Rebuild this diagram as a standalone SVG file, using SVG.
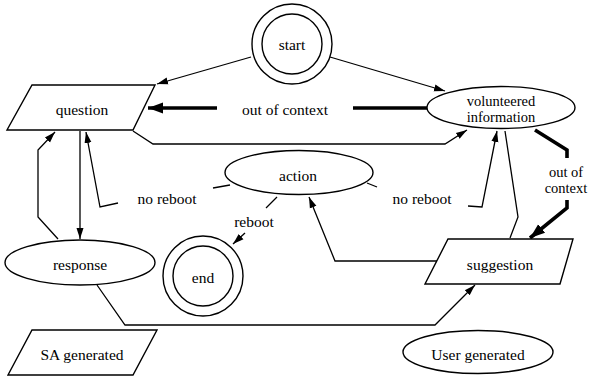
<svg xmlns="http://www.w3.org/2000/svg" width="591" height="377" viewBox="0 0 591 377">
<defs>
<style>
.n{fill:#fff;stroke:#000;stroke-width:1.4}
.t{font-family:'Liberation Serif','DejaVu Serif',serif;font-size:15.5px;fill:#000;text-anchor:middle}
.s{font-size:14.5px}
.c{fill:none;stroke:#000;stroke-width:1.3;stroke-linejoin:miter}
.k{fill:none;stroke:#000;stroke-width:3.6;stroke-linejoin:miter}
</style>
<marker id="a" markerUnits="userSpaceOnUse" markerWidth="12" markerHeight="10" viewBox="0 0 12 10" refX="11" refY="5" orient="auto"><path d="M0,1.5 L11,5 L0,8.5 Z" fill="#000"/></marker>
<marker id="b" markerUnits="userSpaceOnUse" markerWidth="16" markerHeight="14" viewBox="0 0 16 14" refX="15" refY="7" orient="auto"><path d="M0,1.5 L15,7 L0,12.5 Z" fill="#000"/></marker>
</defs>
<rect width="591" height="377" fill="#fff"/>
<g id="connectors">
<line class="c" x1="251" y1="57" x2="157" y2="84" marker-end="url(#a)"/>
<line class="c" x1="330" y1="57" x2="445" y2="91" marker-end="url(#a)"/>
<line class="k" x1="427" y1="108" x2="353" y2="108"/>
<line class="k" x1="217" y1="108" x2="148" y2="108" marker-end="url(#b)"/>
<polyline class="c" points="133,131 153,144 445,144 467,130" marker-end="url(#a)"/>
<polyline class="k" points="535,130 567,150 567,158"/>
<polyline class="k" points="567,200 567,208 530,238" marker-end="url(#b)"/>
<polyline class="c" points="230,185 213,188"/>
<polyline class="c" points="118,203 100,207 86,132" marker-end="url(#a)"/>
<polyline class="c" points="367,183 377,187"/>
<polyline class="c" points="468,206 482,207 497,131" marker-end="url(#a)"/>
<polyline class="c" points="510,238 518,217 505,131"/>
<line class="c" x1="80" y1="131" x2="80" y2="239" marker-end="url(#a)"/>
<polyline class="c" points="58,239 38,217 38,150 55,132" marker-end="url(#a)"/>
<polyline class="c" points="97,285 125,325 435,325 475,285" marker-end="url(#a)"/>
<polyline class="c" points="437,261 335,261 309,197" marker-end="url(#a)"/>
<polyline class="c" points="277,197 266,208"/>
<polyline class="c" points="245,233 233,244" marker-end="url(#a)"/>
</g>
<g font-family="Liberation Serif, DejaVu Serif, serif">
<g id="start">
<circle class="n" cx="292" cy="44" r="40"/>
<circle class="n" cx="292" cy="44" r="30"/>
<text class="t" x="292" y="50">start</text>
</g>
<g id="question">
<polygon class="n" points="32,85 155,85 133,130 7,130"/>
<text class="t" x="82" y="115">question</text>
</g>
<g id="volunteered">
<ellipse class="n" cx="501" cy="107.5" rx="74" ry="21"/>
<text class="t s" x="501" y="106">volunteered</text>
<text class="t s" x="501" y="122">information</text>
</g>
<g id="action">
<ellipse class="n" cx="299" cy="172.5" rx="74" ry="22"/>
<text class="t" x="298" y="181">action</text>
</g>
<g id="response">
<ellipse class="n" cx="80" cy="262.5" rx="75" ry="22.5"/>
<text class="t" x="80" y="270">response</text>
</g>
<g id="end">
<circle class="n" cx="203" cy="276" r="40"/>
<circle class="n" cx="203" cy="276" r="30"/>
<text class="t" x="203" y="283">end</text>
</g>
<g id="suggestion">
<polygon class="n" points="448,239 573,239 560,284 425,284"/>
<text class="t" x="500" y="270">suggestion</text>
</g>
<g id="sa">
<polygon class="n" points="32,330 157,330 133,375 8,375"/>
<text class="t" x="82" y="360">SA generated</text>
</g>
<g id="user">
<ellipse class="n" cx="478" cy="352" rx="75" ry="21.5"/>
<text class="t" x="478" y="360">User generated</text>
</g>
<g id="labels">
<text class="t" x="285" y="115">out of context</text>
<text class="t s" x="566" y="177">out of</text>
<text class="t s" x="566" y="193">context</text>
<text class="t" x="167" y="204">no reboot</text>
<text class="t" x="422" y="204">no reboot</text>
<text class="t" x="254" y="227">reboot</text>
</g>
</g>
</svg>
